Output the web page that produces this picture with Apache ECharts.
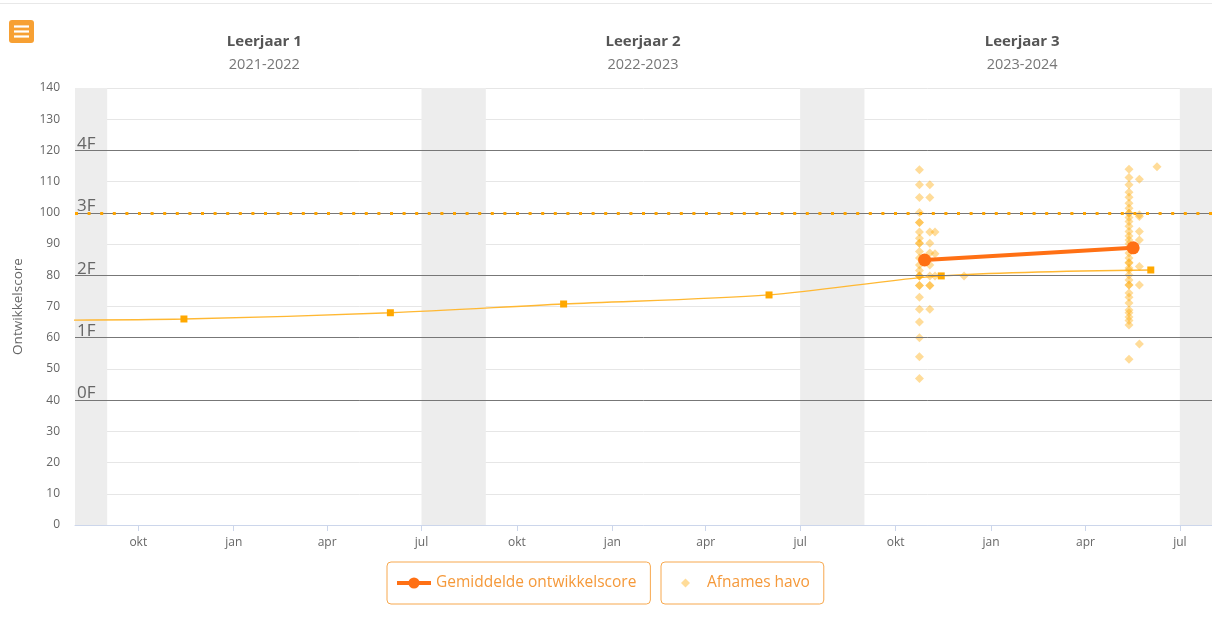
<!DOCTYPE html>
<html>
<head>
<meta charset="utf-8">
<script src="https://cdn.jsdelivr.net/npm/echarts@6/dist/echarts.min.js"></script>
<style>
html,body{margin:0;padding:0;background:#fff;}
#chart{width:1212px;height:620px;}
</style>
</head>
<body>
<div id="chart"></div>
<script>
// ---------- data ----------
const xMin = '2021-08-01';
const xMax = '2024-08-01';

const tickDates  = ['2021-10-01','2022-01-01','2022-04-01','2022-07-01','2022-10-01','2023-01-01','2023-04-01','2023-07-01','2023-10-01','2024-01-01','2024-04-01','2024-07-01'];
const tickLabels = ['okt','jan','apr','jul','okt','jan','apr','jul','okt','jan','apr','jul'];

const yearStarts = ['2021-09-01','2022-09-01','2023-09-01'];
const yearEnds   = ['2022-07-01','2023-07-01','2024-07-01'];
const yearNames  = ['Leerjaar 1','Leerjaar 2','Leerjaar 3'];
const yearRanges = ['2021-2022','2022-2023','2023-2024'];

const holidayStarts = ['2021-08-01','2022-07-01','2023-07-01','2024-07-01'];
const holidayEnds   = ['2021-09-01','2022-09-01','2023-09-01','2024-08-01'];

const levelValues = [120, 100, 80, 60, 40];
const levelNames  = ['4F', '3F', '2F', '1F', '0F'];
const targetValue = 100;

const normDates  = ['2021-06-01','2021-11-14','2022-06-01','2022-11-15','2023-06-01','2023-11-14','2024-06-03'];
const normScores = [65.6, 66.0, 68.0, 70.8, 73.7, 79.8, 81.7];

const avgDates  = ['2023-10-29','2024-05-17'];
const avgScores = [84.9, 88.8];

const afnameDates = ['2023-10-24','2023-11-03','2023-11-08','2023-12-06','2024-05-13','2024-05-23','2024-06-09'];
const afnameScores = [
  [113.8,109.0,104.9,100.1,96.9,96.9,93.9,91.9,90.3,90.3,87.6,85.5,83.3,81.5,79.8,79.8,79.8,76.7,76.7,73.0,69.1,65.0,60.0,53.9,46.9],
  [109.0,104.9,93.9,90.3,87.1,83.3,79.8,76.7,76.7,69.1],
  [93.9,86.9,79.8],
  [79.8],
  [114.0,111.3,109.0,106.6,105.0,103.1,101.5,99.9,99.9,98.5,97.2,95.7,94.0,92.6,91.3,90.1,88.8,87.1,85.5,84.1,83.9,82.3,81.7,80.1,78.5,76.9,76.9,74.3,73.0,71.1,68.9,68.0,66.6,65.5,64.1,53.1],
  [110.8,99.4,98.8,94.0,91.3,82.8,76.9,58.0],
  [114.8]
];

// ---------- helpers ----------
function toTs(s){ const p = s.split('-').map(Number); return new Date(p[0], p[1]-1, p[2]).getTime(); }
const tickTs = tickDates.map(toTs);

const normData = normDates.map((d,i)=>[toTs(d), normScores[i]]);
const avgData = avgDates.map((d,i)=>[toTs(d), avgScores[i]]);
const afnameData = [];
afnameDates.forEach((d,i)=>{ afnameScores[i].forEach(v=>afnameData.push([toTs(d), v])); });

const holidayAreas = holidayStarts.map((s,i)=>[{xAxis: toTs(s)}, {xAxis: toTs(holidayEnds[i])}]);
const yearAreas = yearStarts.map((s,i)=>[
  {xAxis: toTs(s), name: yearNames[i], value: yearRanges[i]},
  {xAxis: toTs(yearEnds[i])}
]);

const levelLines = levelValues.map((v,i)=>({yAxis: v, name: levelNames[i]}));
levelLines.push({
  yAxis: targetValue,
  label: {show: false},
  lineStyle: {color: '#FFA500', width: 3, type: [3, 9.6], opacity: 1}
});

const FONT = '"Open Sans", "Noto Sans", sans-serif';

const chart = echarts.init(document.getElementById('chart'), null, {renderer: 'canvas'});
chart.setOption({
  animation: false,
  textStyle: {fontFamily: FONT},
  grid: {left: 75, right: 0, top: 88, bottom: 95},
  graphic: [
    {type: 'line', shape: {x1: 0, y1: 3.5, x2: 1212, y2: 3.5}, style: {stroke: '#e8e8e8', lineWidth: 1}, silent: true},
    {type: 'group', left: 9, top: 20, children: [
      {type: 'rect', shape: {x: 0, y: 0, width: 25, height: 23, r: 3}, style: {fill: '#F7A033'}},
      {type: 'line', shape: {x1: 5, y1: 6.5, x2: 20, y2: 6.5}, style: {stroke: '#fff', lineWidth: 2.2}},
      {type: 'line', shape: {x1: 5, y1: 11.5, x2: 20, y2: 11.5}, style: {stroke: '#fff', lineWidth: 2.2}},
      {type: 'line', shape: {x1: 5, y1: 16.5, x2: 20, y2: 16.5}, style: {stroke: '#fff', lineWidth: 2.2}}
    ]}
  ],
  legend: [
    {
      data: ['Gemiddelde ontwikkelscore'],
      left: 387, top: 562,
      padding: [11, 14, 11, 8],
      borderColor: '#F7A84E', borderWidth: 1, borderRadius: 4,
      itemWidth: 34, itemHeight: 14,
      selectedMode: false,
      lineStyle: {width: 4},
      textStyle: {color: '#F5993A', fontSize: 15.5, lineHeight: 20, fontFamily: FONT}
    },
    {
      data: [{name: 'Afnames havo', icon: 'diamond'}],
      left: 661, top: 562,
      padding: [11, 14, 11, 20],
      borderColor: '#F7A84E', borderWidth: 1, borderRadius: 4,
      itemWidth: 9, itemHeight: 9,
      selectedMode: false,
      formatter: '{a|{name}}',
      textStyle: {color: '#F5993A', fontSize: 15.5, lineHeight: 20, fontFamily: FONT,
        rich: {a: {padding: [0, 0, 0, 12], color: '#F5993A', fontSize: 15.5, lineHeight: 20, fontFamily: FONT}}}
    }
  ],
  xAxis: {
    type: 'value',
    min: toTs(xMin), max: toTs(xMax),
    axisLine: {show: true, onZero: false, lineStyle: {color: '#ccd6eb'}},
    axisTick: {show: true, customValues: tickTs, length: 6, lineStyle: {color: '#ccd6eb'}},
    axisLabel: {
      customValues: tickTs,
      color: '#666', fontSize: 12, margin: 12, fontFamily: FONT,
      formatter: function(v){ const i = tickTs.indexOf(v); return i >= 0 ? tickLabels[i] : ''; }
    },
    splitLine: {show: false}
  },
  yAxis: {
    type: 'value',
    min: 0, max: 140, interval: 10,
    name: 'Ontwikkelscore',
    nameLocation: 'middle', nameGap: 50, nameRotate: 90,
    nameTextStyle: {color: '#666', fontSize: 13.5, fontFamily: FONT},
    axisLine: {show: false}, axisTick: {show: false},
    axisLabel: {color: '#666', fontSize: 12, margin: 15, fontFamily: FONT},
    splitLine: {lineStyle: {color: '#e6e6e6'}}
  },
  series: [
    {
      name: 'schooljaren', type: 'line', data: [], z: 1, silent: true, clip: false,
      markArea: {
        silent: true,
        data: holidayAreas.concat(yearAreas.map(a=>[
          Object.assign({}, a[0], {
            itemStyle: {color: 'rgba(0,0,0,0)'},
            label: {
              show: true, position: 'top', distance: 12,
              formatter: function(p){ return '{t|' + p.name + '}\n{s|' + p.data.value + '}'; },
              rich: {
                t: {fontSize: 15, fontWeight: 'bold', color: '#555', lineHeight: 24, fontFamily: FONT, align: 'center'},
                s: {fontSize: 14.5, color: '#777', lineHeight: 22, fontFamily: FONT, align: 'center'}
              }
            }
          }), a[1]])),
        itemStyle: {color: '#EDEDED'},
        label: {show: false}
      }
    },
    {
      name: 'niveaus', type: 'line', data: [], z: 2, silent: true, clip: false,
      markLine: {
        silent: true, symbol: ['none', 'none'], animation: false,
        lineStyle: {color: '#777', width: 1, type: 'solid'},
        label: {show: true, position: 'insideStartTop', formatter: '{b}', color: '#666', fontSize: 17, distance: [2, -2], fontFamily: FONT},
        data: levelLines
      }
    },
    {
      name: 'Norm', type: 'line', data: normData, z: 3,
      smooth: 0.3,
      symbol: 'rect', symbolSize: 7, showSymbol: true,
      itemStyle: {color: '#FFA800'},
      lineStyle: {color: '#FFB833', width: 1.3}
    },
    {
      name: 'Afnames havo', type: 'scatter', data: afnameData, z: 4,
      symbol: 'diamond', symbolSize: 9,
      itemStyle: {color: '#FFA800', opacity: 0.4}
    },
    {
      name: 'Gemiddelde ontwikkelscore', type: 'line', data: avgData, z: 5,
      symbol: 'circle', symbolSize: 13, showSymbol: true,
      itemStyle: {color: '#FF7014'},
      lineStyle: {color: '#FF7014', width: 4}
    }
  ]
});
</script>
</body>
</html>
